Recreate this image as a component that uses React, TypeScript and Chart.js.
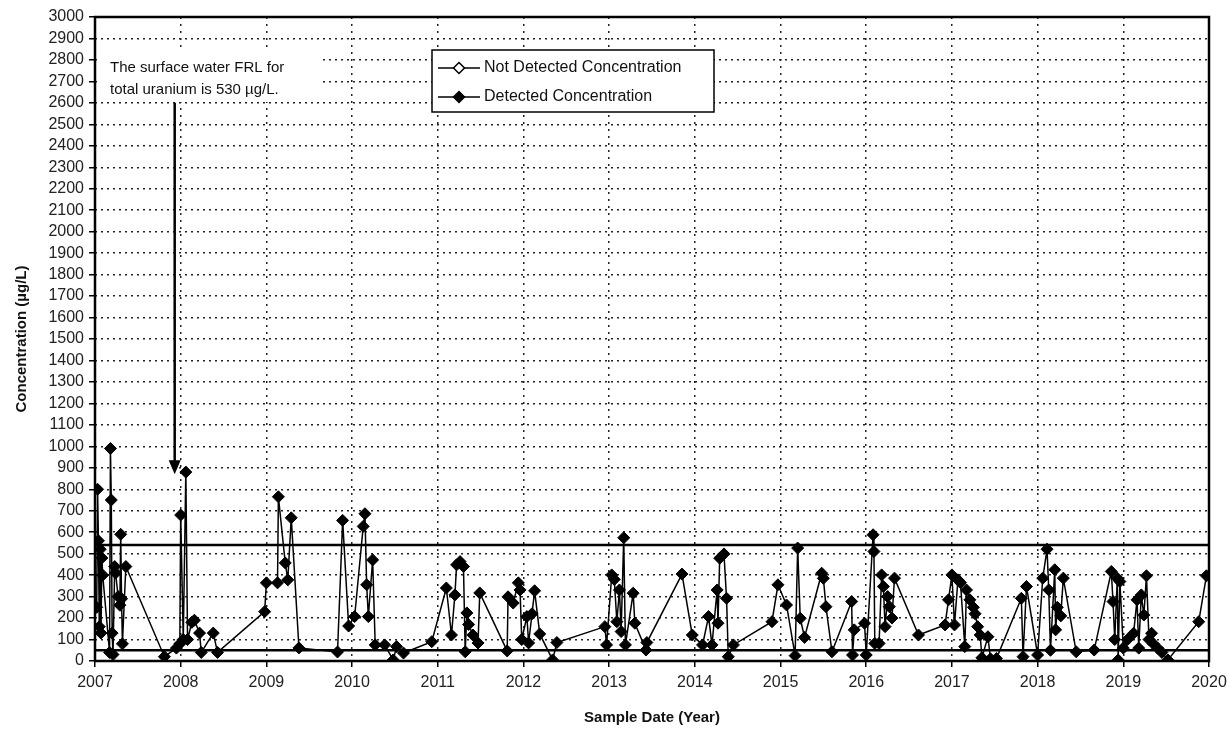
import React, { useEffect, useRef } from "react";
import { Chart, registerables } from "chart.js";

Chart.register(...registerables);

// Sample dates (decimal years) and detected total uranium concentrations (µg/L)
const sampleYears = [
  2007.02, 2007.03, 2007.04, 2007.05, 2007.06, 2007.07, 2007.08, 2007.09, 2007.17, 2007.18,
  2007.19, 2007.2, 2007.21, 2007.23, 2007.24, 2007.27, 2007.29, 2007.3, 2007.31, 2007.32,
  2007.36, 2007.81, 2007.95, 2007.99, 2008.0, 2008.03, 2008.06, 2008.08, 2008.13, 2008.16,
  2008.22, 2008.24, 2008.38, 2008.43, 2008.98, 2009.0, 2009.13, 2009.14, 2009.22, 2009.25,
  2009.29, 2009.38, 2009.83, 2009.89, 2009.96, 2010.03, 2010.13, 2010.15, 2010.17, 2010.19,
  2010.24, 2010.27, 2010.38, 2010.48, 2010.52, 2010.6, 2010.93, 2011.1, 2011.16, 2011.2,
  2011.22, 2011.26, 2011.3, 2011.32, 2011.34, 2011.36, 2011.41, 2011.47, 2011.49, 2011.81,
  2011.82, 2011.88, 2011.94, 2011.96, 2011.98, 2012.04, 2012.06, 2012.1, 2012.13, 2012.19,
  2012.34, 2012.39, 2012.95, 2012.97, 2013.03, 2013.06, 2013.09, 2013.12, 2013.14, 2013.17,
  2013.19, 2013.28, 2013.3, 2013.43, 2013.44, 2013.85, 2013.97, 2014.09, 2014.16, 2014.2,
  2014.26, 2014.27, 2014.29, 2014.34, 2014.37, 2014.39, 2014.45, 2014.9, 2014.97, 2015.07,
  2015.17, 2015.2, 2015.23, 2015.28, 2015.48, 2015.5, 2015.53, 2015.6, 2015.83, 2015.84,
  2015.86, 2015.98, 2016.0, 2016.08, 2016.09, 2016.1, 2016.15, 2016.18, 2016.2, 2016.22,
  2016.25, 2016.27, 2016.3, 2016.33, 2016.61, 2016.92, 2016.96, 2017.0, 2017.03, 2017.07,
  2017.1, 2017.15, 2017.17, 2017.21, 2017.25, 2017.27, 2017.3, 2017.33, 2017.35, 2017.42,
  2017.45, 2017.52, 2017.81, 2017.83, 2017.87, 2018.0, 2018.06, 2018.11, 2018.13, 2018.15,
  2018.2, 2018.21, 2018.23, 2018.27, 2018.3, 2018.45, 2018.66, 2018.86, 2018.88, 2018.9,
  2018.93, 2018.94, 2018.96, 2019.0, 2019.05, 2019.12, 2019.16, 2019.18, 2019.21, 2019.24,
  2019.27, 2019.3, 2019.33, 2019.35, 2019.4, 2019.45, 2019.52, 2019.88, 2019.97,
];

const detectedConcentrations = [
  250, 800, 560, 160, 520, 130, 480, 400, 40, 990,
  750, 130, 30, 440, 410, 300, 260, 590, 290, 80,
  440, 20, 60, 80, 680, 100, 880, 100, 180, 190,
  130, 40, 130, 40, 230, 364, 364, 765, 457, 378,
  667, 61, 42, 655, 163, 207, 627, 686, 355, 207,
  471, 75, 75, 5, 67, 37, 90, 340, 121, 308,
  448, 463, 440, 43, 224, 170, 121, 84, 317, 47,
  299, 270, 364, 331, 100, 207, 84, 220, 327, 126,
  5, 86, 160, 75, 401, 380, 183, 331, 137, 574,
  75, 316, 176, 51, 86, 405, 121, 75, 207, 75,
  331, 176, 479, 499, 292, 20, 75, 183, 355, 261,
  25, 526, 199, 110, 409, 385, 253, 43, 277, 28,
  145, 176, 28, 588, 510, 82, 82, 401, 347, 160,
  300, 253, 200, 386, 121, 168, 285, 401, 168, 378,
  365, 67, 331, 285, 250, 220, 160, 121, 15, 113,
  10, 12, 292, 20, 347, 28, 386, 521, 331, 50,
  425, 145, 250, 210, 386, 43, 51, 417, 277, 100,
  386, 5, 370, 60, 100, 129, 285, 60, 308, 214,
  397, 100, 129, 80, 60, 40, 5, 183, 397,
];

// No non-detect results are plotted
const notDetectedYears: number[] = [];
const notDetectedConcentrations: number[] = [];

// Horizontal reference lines (as drawn)
const frlLineLevel = 540;
const lowerLineLevel = 50;
const referenceLineYears = [2007, 2020];

// Axis ranges / ticks
const yearMin = 2007;
const yearMax = 2020;
const concentrationMax = 3000;
const concentrationStep = 100;

// Annotation
const annotationLines = ["The surface water FRL for", "total uranium is 530 µg/L."];
const arrowYear = 2007.93;
const arrowFromValue = 2600;
const arrowToValue = 870;

const legendLabels = ["Not Detected Concentration", "Detected Concentration"];

const FONT = "'Liberation Sans', Arial, Helvetica, sans-serif";

const overlayPlugin = {
  id: "overlay",
  beforeDraw(chart: any) {
    const { ctx, width, height } = chart;
    ctx.save();
    ctx.fillStyle = "#ffffff";
    ctx.fillRect(0, 0, width, height);
    ctx.restore();
  },
  afterDraw(chart: any) {
    const { ctx, chartArea: a, scales } = chart;
    const xs = scales.x;
    const ys = scales.y;
    ctx.save();
    // frame
    ctx.setLineDash([]);
    ctx.strokeStyle = "#000";
    ctx.lineWidth = 2.5;
    ctx.strokeRect(a.left, a.top, a.right - a.left, a.bottom - a.top);

    // annotation text box
    const boxL = a.left + 4;
    const boxT = a.top + 33;
    ctx.fillStyle = "#ffffff";
    ctx.fillRect(boxL, boxT, 220, 52);
    ctx.fillStyle = "#111";
    ctx.font = `15px ${FONT}`;
    ctx.textBaseline = "middle";
    ctx.textAlign = "left";
    ctx.fillText(annotationLines[0], a.left + 15, boxT + 18);
    ctx.fillText(annotationLines[1], a.left + 15, boxT + 40);

    // arrow
    const ax = xs.getPixelForValue(arrowYear);
    const ay0 = ys.getPixelForValue(arrowFromValue);
    const ay1 = ys.getPixelForValue(arrowToValue);
    ctx.strokeStyle = "#000";
    ctx.lineWidth = 2.5;
    ctx.beginPath();
    ctx.moveTo(ax, ay0);
    ctx.lineTo(ax, ay1 - 12);
    ctx.stroke();
    ctx.fillStyle = "#000";
    ctx.beginPath();
    ctx.moveTo(ax - 6, ay1 - 14);
    ctx.lineTo(ax + 6, ay1 - 14);
    ctx.lineTo(ax, ay1);
    ctx.closePath();
    ctx.fill();

    // legend
    const lx = 432;
    const ly = 50;
    const lw = 282;
    const lh = 62;
    ctx.fillStyle = "#ffffff";
    ctx.fillRect(lx, ly, lw, lh);
    ctx.strokeStyle = "#000";
    ctx.lineWidth = 1.5;
    ctx.strokeRect(lx, ly, lw, lh);
    const rows = [ly + 18, ly + 47];
    rows.forEach((ry, i) => {
      ctx.strokeStyle = "#000";
      ctx.lineWidth = 1.5;
      ctx.beginPath();
      ctx.moveTo(lx + 6, ry);
      ctx.lineTo(lx + 48, ry);
      ctx.stroke();
      const cx = lx + 27;
      const r = 5.5;
      ctx.beginPath();
      ctx.moveTo(cx, ry - r);
      ctx.lineTo(cx + r, ry);
      ctx.lineTo(cx, ry + r);
      ctx.lineTo(cx - r, ry);
      ctx.closePath();
      ctx.fillStyle = i === 0 ? "#fff" : "#000";
      ctx.fill();
      ctx.stroke();
      ctx.fillStyle = "#111";
      ctx.font = `16px ${FONT}`;
      ctx.textAlign = "left";
      ctx.textBaseline = "middle";
      ctx.fillText(legendLabels[i], lx + 52, ry);
    });
    ctx.restore();
  },
};

export default function App() {
  const canvasRef = useRef<HTMLCanvasElement | null>(null);

  useEffect(() => {
    const canvas = canvasRef.current;
    if (!canvas) return;

    const detected = sampleYears.map((x, i) => ({ x, y: detectedConcentrations[i] }));
    const notDetected = notDetectedYears.map((x, i) => ({ x, y: notDetectedConcentrations[i] }));
    const frlLine = referenceLineYears.map((x) => ({ x, y: frlLineLevel }));
    const lowerLine = referenceLineYears.map((x) => ({ x, y: lowerLineLevel }));

    const chart = new Chart(canvas, {
      type: "line",
      data: {
        datasets: [
          {
            label: "FRL",
            data: frlLine,
            borderColor: "#000",
            borderWidth: 2.5,
            pointRadius: 0,
            fill: false,
          },
          {
            label: "Lower",
            data: lowerLine,
            borderColor: "#000",
            borderWidth: 2.5,
            pointRadius: 0,
            fill: false,
          },
          {
            label: legendLabels[0],
            data: notDetected,
            borderColor: "#000",
            backgroundColor: "#fff",
            borderWidth: 1.5,
            pointStyle: "rectRot",
            pointRadius: 5,
          },
          {
            label: legendLabels[1],
            data: detected,
            borderColor: "#000",
            backgroundColor: "#000",
            borderWidth: 1.5,
            pointStyle: "rectRot",
            pointRadius: 6,
            pointBorderWidth: 1,
            tension: 0,
          },
        ],
      },
      options: {
        responsive: false,
        animation: false,
        parsing: true,
        layout: { padding: { top: 17, right: 21, left: 0, bottom: 0 } },
        plugins: {
          legend: { display: false },
          tooltip: { enabled: false },
        },
        scales: {
          x: {
            type: "linear",
            min: yearMin,
            max: yearMax,
            afterFit: (scale: any) => {
              scale.height = 70;
              scale.paddingLeft = 0;
              scale.paddingRight = 0;
            },
            ticks: {
              stepSize: 1,
              color: "#222",
              font: { family: FONT, size: 16 },
              padding: 6,
              callback: (v: any) => String(v),
              maxRotation: 0,
            },
            grid: {
              color: "#222",
              lineWidth: 1.5,
              tickLength: 6,
              tickColor: "#000",
              tickWidth: 1.5,
              tickBorderDash: [],
            },
            border: { display: false, dash: [2, 5] },
            title: {
              display: true,
              text: "Sample Date (Year)",
              color: "#111",
              font: { family: FONT, size: 15, weight: "bold" },
              padding: { top: 0, bottom: 4 },
            },
          },
          y: {
            type: "linear",
            min: 0,
            max: concentrationMax,
            afterFit: (scale: any) => {
              scale.width = 95;
            },
            ticks: {
              stepSize: concentrationStep,
              autoSkip: false,
              color: "#222",
              font: { family: FONT, size: 16 },
              padding: 5,
              callback: (v: any) => String(v),
            },
            grid: {
              color: "#222",
              lineWidth: 1.5,
              tickLength: 6,
              tickColor: "#000",
              tickWidth: 1.5,
              tickBorderDash: [],
            },
            border: { display: false, dash: [2, 4] },
            title: {
              display: true,
              text: "Concentration (µg/L)",
              color: "#111",
              font: { family: FONT, size: 15, weight: "bold" },
              padding: { top: 13, bottom: 0 },
            },
          },
        },
      },
      plugins: [overlayPlugin],
    });

    return () => {
      chart.destroy();
    };
  }, []);

  return (
    <div style={{ position: "absolute", left: 0, top: 0, width: 1230, height: 731 }}>
      <canvas ref={canvasRef} width={1230} height={731} />
    </div>
  );
}
